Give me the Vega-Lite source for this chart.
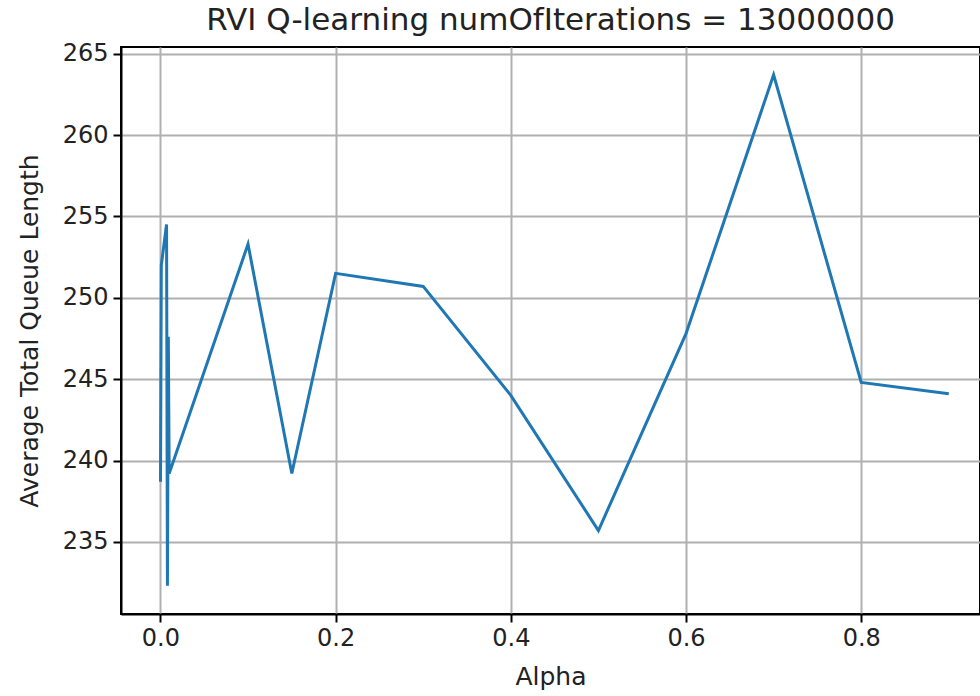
{
  "$schema": "https://vega.github.io/schema/vega-lite/v6.json",
  "width": 859,
  "height": 567,
  "autosize": {"type": "none"},
  "padding": {"left": 121, "top": 47, "right": 0, "bottom": 82},
  "background": "white",
  "config": {
    "font": "DejaVu Sans",
    "view": {"stroke": "#000000", "strokeWidth": 2},
    "axis": {
      "labelFont": "DejaVu Sans",
      "titleFont": "DejaVu Sans",
      "labelFontSize": 24,
      "titleFontSize": 25,
      "labelColor": "#222222",
      "titleColor": "#222222",
      "titleFontWeight": "normal",
      "domainColor": "#000000",
      "domainWidth": 2,
      "tickColor": "#000000",
      "tickWidth": 2,
      "tickSize": 8,
      "gridColor": "#b0b0b0",
      "gridWidth": 2,
      "gridOpacity": 1
    }
  },
  "title": {
    "text": "RVI Q-learning numOfIterations = 13000000",
    "font": "DejaVu Sans",
    "fontSize": 31,
    "fontWeight": "normal",
    "color": "#222222",
    "offset": 5
  },
  "data": {
    "values": [
      {"alpha": 0.0001, "q": 238.7},
      {"alpha": 0.001, "q": 252.0},
      {"alpha": 0.007, "q": 254.5},
      {"alpha": 0.008, "q": 232.3},
      {"alpha": 0.009, "q": 247.6},
      {"alpha": 0.01, "q": 239.2},
      {"alpha": 0.1, "q": 253.3},
      {"alpha": 0.15, "q": 239.2},
      {"alpha": 0.2, "q": 251.5},
      {"alpha": 0.3, "q": 250.7},
      {"alpha": 0.4, "q": 244.0},
      {"alpha": 0.5, "q": 235.7},
      {"alpha": 0.6, "q": 247.8},
      {"alpha": 0.7, "q": 263.7},
      {"alpha": 0.8, "q": 244.8},
      {"alpha": 0.9, "q": 244.1}
    ]
  },
  "mark": {"type": "line", "color": "#1f77b4", "strokeWidth": 3, "clip": true},
  "encoding": {
    "order": {"field": "idx"},
    "x": {
      "field": "alpha",
      "type": "quantitative",
      "title": "Alpha",
      "scale": {"domain": [-0.045, 0.9356], "nice": false, "zero": false},
      "axis": {"values": [0, 0.2, 0.4, 0.6, 0.8], "format": ".1f", "labelPadding": 4, "titlePadding": 14}
    },
    "y": {
      "field": "q",
      "type": "quantitative",
      "title": "Average Total Queue Length",
      "scale": {"domain": [230.57, 265.41], "nice": false, "zero": false},
      "axis": {"values": [235, 240, 245, 250, 255, 260, 265], "labelPadding": 5, "titlePadding": 20}
    }
  }
}
